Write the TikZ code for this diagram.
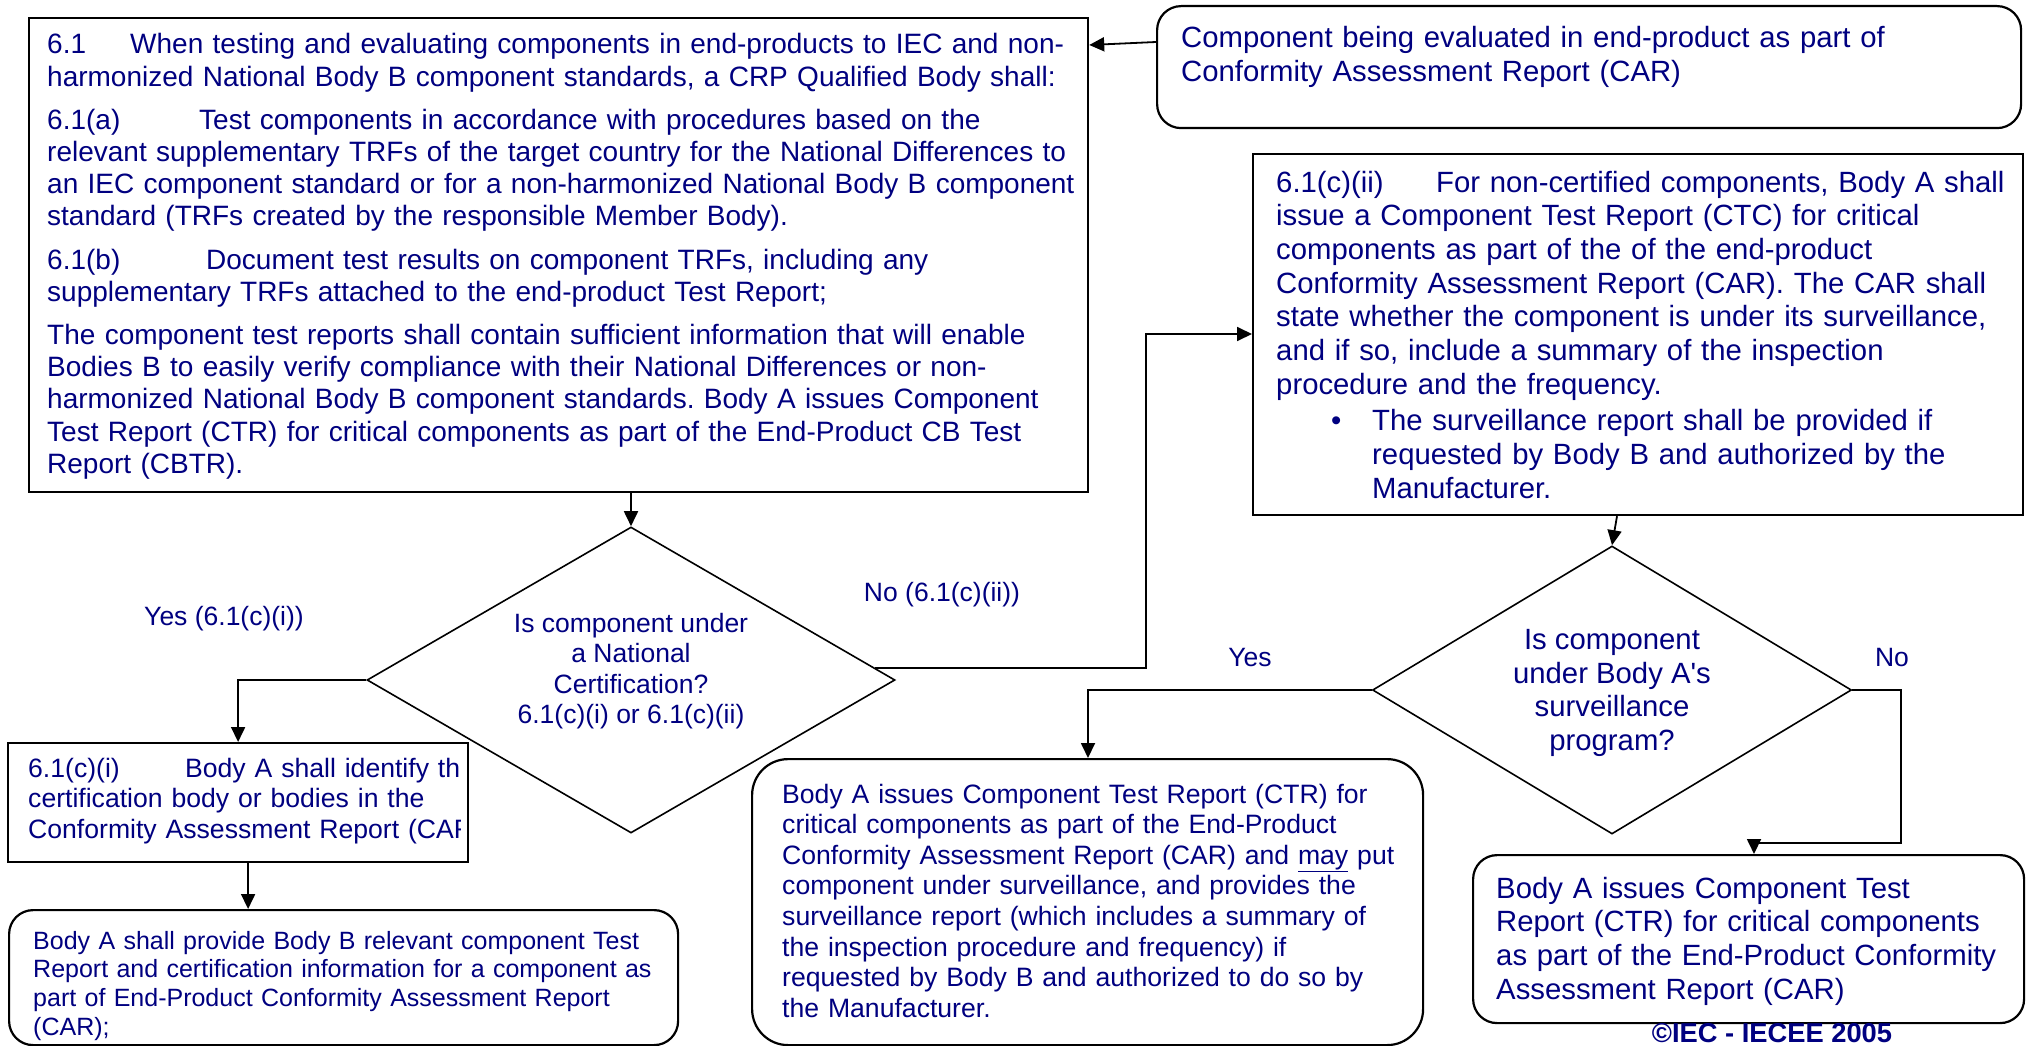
\documentclass[tikz,border=0pt]{standalone}
\usepackage{fontspec}
\setmainfont{Liberation Sans}[Ligatures=TeXOff]
\usetikzlibrary{arrows.meta,calc,shapes.geometric}
\definecolor{navy}{RGB}{0,0,128}
\newcommand\fsA{\fontsize{28}{32.2}\selectfont}
\newcommand\fsC{\fontsize{29.3}{33.7}\selectfont}
\newcommand\fsF{\fontsize{26.6}{30.6}\selectfont}
\newcommand\fsE{\fontsize{25}{28.7}\selectfont}
\newcommand\fsL{\fontsize{26.5}{30.5}\selectfont}
\frenchspacing
\begin{document}
\begin{tikzpicture}[x=1pt,y=-1pt,
  sqbox/.style={draw, line width=2.2pt, fill=white, rectangle, inner sep=0pt, anchor=north west},
  rbox/.style={sqbox, rounded corners=24pt},
  dia/.style={draw, line width=1.6pt, diamond, inner sep=0pt},
  txt/.style={text=navy, inner sep=0pt, anchor=base west, align=left, text width=#1},
  lbl/.style={text=navy, inner sep=0pt, align=center},
  arr/.style={line width=1.8pt, -{Triangle[length=15pt,width=14pt]}}
]
\useasboundingbox (0,0) rectangle (2028,1046);

% boxes
\node[sqbox, minimum width=1059pt, minimum height=474pt] (A) at (28,17) {};
\node[rbox, minimum width=864pt, minimum height=122pt] (B) at (1156,5) {};
\node[sqbox, minimum width=770pt, minimum height=361pt] (C) at (1252,153) {};
\node[sqbox, minimum width=460pt, minimum height=119pt] (D) at (7,742) {};
\node[rbox, minimum width=669pt, minimum height=135pt] (E) at (8,909) {};
\node[rbox, rounded corners=36pt, minimum width=671pt, minimum height=286pt] (F) at (751,758) {};
\node[rbox, minimum width=551pt, minimum height=168pt] (G) at (1472,854) {};

% diamonds
\node[dia, minimum width=528pt, minimum height=306pt] (d1) at (631,680) {};
\node[dia, minimum width=479pt, minimum height=288pt] (d2) at (1612,690) {};

% texts
\node[txt=1100pt, font=\fsA] (At) at (47,54) {%
\makebox[83pt][l]{6.1}When testing and evaluating components in end-products to IEC and non-\\
harmonized National Body B component standards, a CRP Qualified Body shall:\\[11pt]
\makebox[152pt][l]{6.1(a)}Test components in accordance with procedures based on the\\
relevant supplementary TRFs of the target country for the National Differences to\\
an IEC component standard or for a non-harmonized National Body B component\\
standard (TRFs created by the responsible Member Body).\\[11pt]
\makebox[159pt][l]{6.1(b)}Document test results on component TRFs, including any\\
supplementary TRFs attached to the end-product Test Report;\\[11pt]
The component test reports shall contain sufficient information that will enable\\
Bodies B to easily verify compliance with their National Differences or non-\\
harmonized National Body B component standards. Body A issues Component\\
Test Report (CTR) for critical components as part of the End-Product CB Test\\
Report (CBTR).};

\node[txt=900pt, font=\fsC] (Bt) at (1181,48) {%
Component being evaluated in end-product as part of\\
Conformity Assessment Report (CAR)};

\node[txt=800pt, font=\fsC] (Ct) at (1276,192) {%
\makebox[160pt][l]{6.1(c)(ii)}For non-certified components, Body A shall\\
issue a Component Test Report (CTC) for critical\\
components as part of the of the end-product\\
Conformity Assessment Report (CAR). The CAR shall\\
state whether the component is under its surveillance,\\
and if so, include a summary of the inspection\\
procedure and the frequency.\\[3pt]
\hspace*{55pt}\makebox[41pt][l]{\textbullet}The surveillance report shall be provided if\\
\hspace*{96pt}requested by Body B and authorized by the\\
\hspace*{96pt}Manufacturer.};

\begin{scope}
\clip (D.north west) rectangle ($(D.south west)+(453,0)$);
\node[txt=600pt, font=\fsF] (Dt) at (28,777) {%
\makebox[157pt][l]{6.1(c)(i)}Body A shall identify the\\
certification body or bodies in the\\
Conformity Assessment Report (CAR).};
\end{scope}

\node[txt=700pt, font=\fsE] (Et) at (33,949) {%
Body A shall provide Body B relevant component Test\\
Report and certification information for a component as\\
part of End-Product Conformity Assessment Report\\
(CAR);};

\node[txt=700pt, font=\fsF] (Ft) at (782,803) {%
Body A issues Component Test Report (CTR) for\\
critical components as part of the End-Product\\
Conformity Assessment Report (CAR) and \underline{may} put\\
component under surveillance, and provides the\\
surveillance report (which includes a summary of\\
the inspection procedure and frequency) if\\
requested by Body B and authorized to do so by\\
the Manufacturer.};

\node[txt=600pt, font=\fsC] (Gt) at (1496,898) {%
Body A issues Component Test\\
Report (CTR) for critical components\\
as part of the End-Product Conformity\\
Assessment Report (CAR)};

\node[lbl, font=\fsL] (d1t) at (631,671) {Is component under\\a National\\Certification?\\6.1(c)(i) or 6.1(c)(ii)};
\node[lbl, font=\fsC] (d2t) at (1612,693) {Is component\\under Body A's\\surveillance\\program?};

\node[lbl, font=\fsL] (ly1) at (224,619) {Yes (6.1(c)(i))};
\node[lbl, font=\fsL] (ln1) at (942,595) {No (6.1(c)(ii))};
\node[lbl, font=\fsL] (ly2) at (1250,658) {Yes};
\node[lbl, font=\fsL] (ln2) at (1892,658) {No};

\node[lbl, font=\fontsize{27.3}{31}\selectfont\bfseries] (cr) at (1772,1033) {©IEC - IECEE 2005};

% connectors
\draw[arr] ($(B.north west)+(0,37)$) -- ($(A.north east)+(0,28)$);
\draw[arr] (d1.north |- A.south) -- (d1.north);
\draw[arr] (d1.west) -| (D.north);
\coordinate (dE) at ($(D.south)+(10,0)$);
\draw[arr] (dE) -- (dE |- E.north);
\coordinate (n1) at ($(d1.east)+(-21,-12)$);
\coordinate (n2) at ($(n1)+(271,0)$);
\coordinate (cin) at ($(C.north west)+(0,181)$);
\draw[arr] (n1) -- (n2) |- (cin);
\coordinate (c2) at ($(C.south west)+(365,0)$);
\draw[arr] (c2) -- (d2.north);
\coordinate (fin) at ($(F.north west)+(337,0)$);
\draw[arr] (d2.west) -| (fin);
\coordinate (g1) at ($(d2.east)+(49,0)$);
\coordinate (g2) at ($(g1)+(0,153)$);
\coordinate (gin) at ($(G.north west)+(282,0)$);
\draw[arr] (d2.east) -- (g1) -- (g2) -- ($(gin)+(0,-11)$) -- (gin);
\end{tikzpicture}
\end{document}
